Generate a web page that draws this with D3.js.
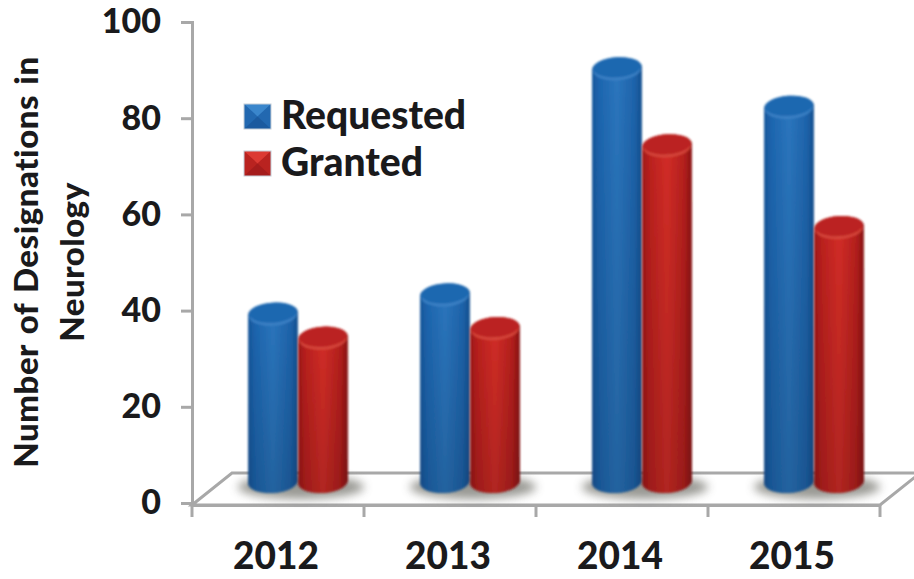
<!DOCTYPE html>
<html lang="en">
<head>
    <meta charset="UTF-8">
    <title>Designations in Neurology</title>
    <script src="https://d3js.org/d3.v7.min.js"></script>
    <style>
        html, body { margin: 0; padding: 0; background: #fff; }
        svg { display: block; }
        text { font-family: Lato, "Open Sans", sans-serif; font-weight: 900; fill: #1a1a1c; }
    </style>
</head>
<body>
    <div id="chart"></div>

    <script>
        var years = ["2012", "2013", "2014", "2015"];
        var requested = [35, 39, 86, 78];
        var granted = [30, 32, 70, 53];
        var yTicks = [0, 20, 40, 60, 80, 100];
        var seriesNames = ["Requested", "Granted"];

        var w = 914;
        var h = 579;
        var svg = d3.select("#chart").append("svg")
            .attr("width", w)
            .attr("height", h);

        var axisLeftX = 192;
        var axisRightX = 880;
        var floorY = 505;

        var xScale = d3.scaleBand()
            .domain(years)
            .range([axisLeftX, axisRightX]);

        var yScale = d3.scaleLinear()
            .domain([0, 100])
            .range([503, 22]);

        // the floor runs back into the page, bars stand part way along it
        var depthX = 40;
        var depthY = -32;
        var barShiftX = depthX / 2;
        var barShiftY = -21;

        var barWidth = 50;
        var rx = barWidth / 2;
        var ry = 11;
        var tilt = -4;
        var tiltX = rx * Math.cos(tilt * Math.PI / 180);
        var tiltY = rx * Math.sin(tilt * Math.PI / 180);

        var defs = svg.append("defs");

        function sideGradient(id, stops) {
            var g = defs.append("linearGradient").attr("id", id);
            stops.forEach(function(s) {
                g.append("stop").attr("offset", s[0]).attr("stop-color", s[1]);
            });
        }

        sideGradient("blueSide", [[0, "#17569b"], [0.14, "#1d66b0"], [0.5, "#2b76be"], [0.85, "#1e64ac"], [1, "#155090"]]);
        sideGradient("redSide", [[0, "#9c1717"], [0.14, "#ba201e"], [0.5, "#d32d27"], [0.85, "#b41f1d"], [1, "#881212"]]);

        var fade = defs.append("linearGradient").attr("id", "fade")
            .attr("x1", 0).attr("y1", 0).attr("x2", 0).attr("y2", 1);
        fade.append("stop").attr("offset", 0).attr("stop-color", "#000").attr("stop-opacity", 0);
        fade.append("stop").attr("offset", 1).attr("stop-color", "#000").attr("stop-opacity", 0.16);

        defs.append("filter").attr("id", "soft")
            .attr("x", "-30%").attr("y", "-60%").attr("width", "160%").attr("height", "220%")
            .append("feGaussianBlur").attr("stdDeviation", 5);

        defs.append("filter").attr("id", "edge")
            .append("feGaussianBlur").attr("stdDeviation", 0.8);

        var colors = [
            { side: "url(#blueSide)", top: "#1f68b0", rim: "#3a80c4", bright: "#3a86cc", mid: "#2268b0", dark: "#1b5a9f" },
            { side: "url(#redSide)", top: "#bb2320", rim: "#d5453a", bright: "#dc3a33", mid: "#b92320", dark: "#a51c1c" }
        ];

        // floor
        var axisColor = "#a8a8a8";
        var floor = svg.append("g");
        floor.append("path")
            .attr("d", "M" + axisLeftX + "," + floorY
                + "L" + (axisLeftX + depthX) + "," + (floorY + depthY)
                + "H" + (axisRightX + depthX)
                + "L" + axisRightX + "," + floorY + "Z")
            .attr("fill", "#ffffff")
            .attr("stroke", axisColor)
            .attr("stroke-width", 3);

        // axes
        var yAxis = d3.axisLeft(yScale)
            .tickValues(yTicks)
            .tickSize(11)
            .tickPadding(20);

        var yG = svg.append("g")
            .attr("transform", "translate(" + axisLeftX + ",0)")
            .call(yAxis);

        var xAxis = d3.axisBottom(xScale)
            .tickSize(0)
            .tickPadding(38);

        var xG = svg.append("g")
            .attr("transform", "translate(-2," + floorY + ")")
            .call(xAxis);

        xG.select(".domain").attr("transform", "translate(2,0)");

        xG.selectAll(".boundary")
            .data(xScale.domain().concat("end"))
            .enter()
            .append("line")
            .attr("class", "boundary")
            .attr("transform", "translate(2,0)")
            .attr("x1", function(d) { return d === "end" ? axisRightX : xScale(d); })
            .attr("x2", function(d) { return d === "end" ? axisRightX : xScale(d); })
            .attr("y1", 0)
            .attr("y2", 12);

        svg.selectAll(".domain, .tick line, .boundary")
            .attr("stroke", axisColor)
            .attr("stroke-width", 3);

        yG.selectAll("text").style("font-size", "34px");
        xG.selectAll("text").style("font-size", "37px");
        yG.attr("font-family", null);
        xG.attr("font-family", null);

        // cylinders
        var series = [requested, granted];
        var plot = svg.append("g");

        function barX(i, s) {
            return xScale(years[i]) + xScale.bandwidth() / 2 + barShiftX + (s === 0 ? -rx : rx);
        }

        var baseY = yScale(0) + barShiftY;

        function sidePath(d, i, s) {
            var cx = barX(i, s);
            var top = yScale(d) + barShiftY;
            return "M" + (cx - tiltX) + "," + (top - tiltY)
                + "L" + (cx - tiltX) + "," + (baseY - tiltY)
                + "A" + rx + "," + ry + "," + tilt + ",0,0," + (cx + tiltX) + "," + (baseY + tiltY)
                + "L" + (cx + tiltX) + "," + (top + tiltY)
                + "A" + rx + "," + ry + "," + tilt + ",0,0," + (cx - tiltX) + "," + (top - tiltY) + "Z";
        }

        // shadows go down first so no bar is covered by one
        years.forEach(function(year, i) {
            var centre = xScale(year) + xScale.bandwidth() / 2 + barShiftX;
            plot.append("ellipse")
                .attr("cx", centre + 3)
                .attr("cy", baseY + 5)
                .attr("rx", barWidth + 13)
                .attr("ry", ry + 1)
                .attr("fill", "#77776f")
                .attr("opacity", 0.75)
                .attr("filter", "url(#soft)");
        });

        series.forEach(function(values, s) {
            var c = colors[s];
            var g = plot.append("g").attr("filter", "url(#edge)");

            g.selectAll(".side")
                .data(values)
                .enter()
                .append("path")
                .attr("class", "side")
                .attr("d", function(d, i) { return sidePath(d, i, s); })
                .attr("fill", c.side);

            g.selectAll(".shade")
                .data(values)
                .enter()
                .append("path")
                .attr("class", "shade")
                .attr("d", function(d, i) { return sidePath(d, i, s); })
                .attr("fill", "url(#fade)");

            // lit front rim of the cap, then the cap itself
            g.selectAll(".rim")
                .data(values)
                .enter()
                .append("ellipse")
                .attr("class", "rim")
                .attr("rx", rx - 1)
                .attr("ry", ry)
                .attr("fill", c.rim)
                .attr("transform", function(d, i) {
                    return "translate(" + barX(i, s) + "," + (yScale(d) + barShiftY + 1) + ") rotate(" + tilt + ")";
                });

            g.selectAll(".cap")
                .data(values)
                .enter()
                .append("ellipse")
                .attr("class", "cap")
                .attr("rx", rx - 1)
                .attr("ry", ry - 1)
                .attr("fill", c.top)
                .attr("transform", function(d, i) {
                    return "translate(" + barX(i, s) + "," + (yScale(d) + barShiftY - 1) + ") rotate(" + tilt + ")";
                });
        });

        // legend
        var legendX = 244;
        var swatch = 27;
        var legendY = d3.scalePoint().domain(seriesNames).range([104, 151]);

        var legend = svg.selectAll(".legend")
            .data(seriesNames)
            .enter()
            .append("g")
            .attr("class", "legend")
            .attr("transform", function(d) {
                return "translate(" + legendX + "," + legendY(d) + ")";
            });

        var sw = swatch;
        var hs = swatch - 2;
        legend.each(function(d, s) {
            var g = d3.select(this);
            var c = colors[s];
            g.append("rect").attr("width", sw).attr("height", hs).attr("fill", c.dark);
            g.append("path").attr("d", "M0,0V" + hs + "L" + (sw / 2) + "," + (hs / 2) + "Z").attr("fill", c.mid);
            g.append("path").attr("d", "M" + sw + ",0V" + hs + "L" + (sw / 2) + "," + (hs / 2) + "Z").attr("fill", c.mid);
            g.append("path").attr("d", "M0,0H" + sw + "L" + (sw / 2) + "," + (hs / 2) + "Z").attr("fill", c.bright);
            g.append("rect").attr("width", sw).attr("height", hs).attr("fill", "none")
                .attr("stroke", "#c4ced8").attr("stroke-width", 1);
            g.append("text")
                .attr("x", 37)
                .attr("y", hs)
                .style("font-size", "39px")
                .text(d);
        });

        // y axis title
        var title = svg.append("text")
            .attr("transform", "translate(0,262) rotate(-90)")
            .attr("text-anchor", "middle")
            .style("font-size", "33px")
            .style("letter-spacing", "0.5px")
            .style("word-spacing", "2px");

        title.append("tspan").attr("x", 0).attr("y", 38).text("Number of Designations in");
        title.append("tspan").attr("x", 0).attr("y", 84).text("Neurology");
    </script>
</body>
</html>
